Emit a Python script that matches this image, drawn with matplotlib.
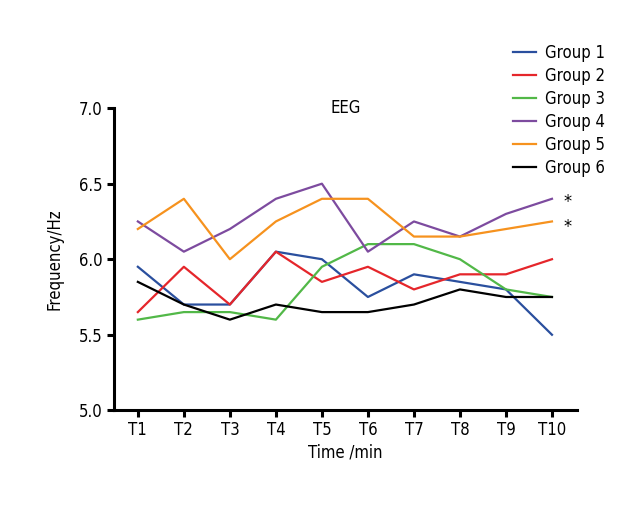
import matplotlib
matplotlib.use("Agg")
import matplotlib.pyplot as plt

plt.rcParams['font.family'] = ['DejaVu Sans']
plt.rcParams['font.stretch'] = 'condensed'

times = ["T1", "T2", "T3", "T4", "T5", "T6", "T7", "T8", "T9", "T10"]
group1 = [5.95, 5.70, 5.70, 6.05, 6.00, 5.75, 5.90, 5.85, 5.80, 5.50]
group2 = [5.65, 5.95, 5.70, 6.05, 5.85, 5.95, 5.80, 5.90, 5.90, 6.00]
group3 = [5.60, 5.65, 5.65, 5.60, 5.95, 6.10, 6.10, 6.00, 5.80, 5.75]
group4 = [6.25, 6.05, 6.20, 6.40, 6.50, 6.05, 6.25, 6.15, 6.30, 6.40]
group5 = [6.20, 6.40, 6.00, 6.25, 6.40, 6.40, 6.15, 6.15, 6.20, 6.25]
group6 = [5.85, 5.70, 5.60, 5.70, 5.65, 5.65, 5.70, 5.80, 5.75, 5.75]
labels = ["Group 1", "Group 2", "Group 3", "Group 4", "Group 5", "Group 6"]
colors = ["#2a4f9e", "#e5262b", "#52b848", "#7d4b9f", "#f6921e", "#000000"]

fig = plt.figure(figsize=(6.4, 5.2), dpi=100)
ax = fig.add_axes([0.178, 0.211, 0.724, 0.581])

x = range(len(times))
for y, lab, c in zip([group1, group2, group3, group4, group5, group6], labels, colors):
    ax.plot(x, y, color=c, lw=1.6, label=lab)

# significance marks
ax.text(9.25, group4[-1] - 0.02, "*", fontsize=13, va="center", ha="left")
ax.text(9.25, group5[-1] - 0.04, "*", fontsize=13, va="center", ha="left")

ax.set_xlim(-0.52, 9.55)
ax.set_ylim(5.0, 7.0)
ax.set_yticks([5.0, 5.5, 6.0, 6.5, 7.0])
ax.set_yticklabels(["5.0", "5.5", "6.0", "6.5", "7.0"])
ax.set_xticks(list(x))
ax.set_xticklabels(times)
ax.spines['top'].set_visible(False)
ax.spines['right'].set_visible(False)
for s in ['left', 'bottom']:
    ax.spines[s].set_linewidth(2.2)
ax.tick_params(width=2.2, length=5, labelsize=12, pad=3)

ax.set_xlabel("Time /min", fontsize=12, labelpad=3)
ax.set_ylabel("Frequency/Hz", fontsize=12, labelpad=11)
ax.text(0.5, 1.0, "EEG", transform=ax.transAxes, ha="center", va="center", fontsize=12)

ax.legend(loc="upper left", bbox_to_anchor=(513 / 640, 1 - 44 / 520),
          bbox_transform=fig.transFigure, frameon=False,
          fontsize=12, handlelength=1.4, handletextpad=0.5, labelspacing=0.3,
          borderaxespad=0, borderpad=0)

fig.savefig("out.png", dpi=100)
